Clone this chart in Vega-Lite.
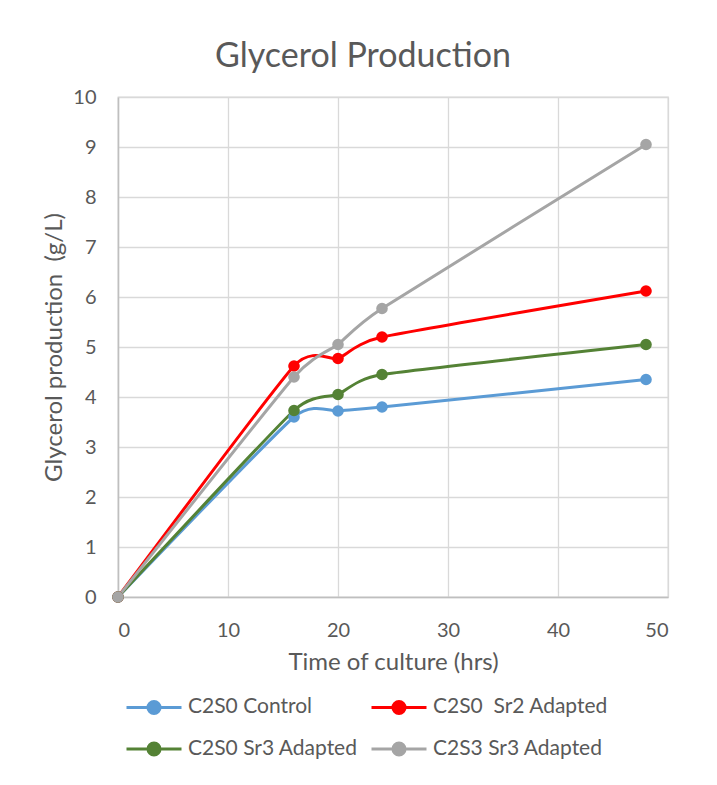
{
  "$schema": "https://vega.github.io/schema/vega-lite/v6.json",
  "width": 550,
  "height": 500,
  "autosize": {"type": "none"},
  "padding": {"left": 118, "top": 97, "right": 49, "bottom": 188},
  "background": "white",
  "title": {
    "text": "Glycerol Production",
    "font": "Lato",
    "fontSize": 34,
    "fontWeight": "normal",
    "color": "#595959",
    "anchor": "middle",
    "dx": -30,
    "offset": 13
  },
  "data": {
    "values": [
      {"time": 0, "glycerol": 0, "series": "C2S0 Control"},
      {"time": 16, "glycerol": 3.6, "series": "C2S0 Control"},
      {"time": 20, "glycerol": 3.72, "series": "C2S0 Control"},
      {"time": 24, "glycerol": 3.8, "series": "C2S0 Control"},
      {"time": 48, "glycerol": 4.35, "series": "C2S0 Control"},
      {"time": 0, "glycerol": 0, "series": "C2S0\u00a0 Sr2 Adapted"},
      {"time": 16, "glycerol": 4.62, "series": "C2S0\u00a0 Sr2 Adapted"},
      {"time": 20, "glycerol": 4.77, "series": "C2S0\u00a0 Sr2 Adapted"},
      {"time": 24, "glycerol": 5.2, "series": "C2S0\u00a0 Sr2 Adapted"},
      {"time": 48, "glycerol": 6.12, "series": "C2S0\u00a0 Sr2 Adapted"},
      {"time": 0, "glycerol": 0, "series": "C2S0 Sr3 Adapted"},
      {"time": 16, "glycerol": 3.73, "series": "C2S0 Sr3 Adapted"},
      {"time": 20, "glycerol": 4.05, "series": "C2S0 Sr3 Adapted"},
      {"time": 24, "glycerol": 4.45, "series": "C2S0 Sr3 Adapted"},
      {"time": 48, "glycerol": 5.05, "series": "C2S0 Sr3 Adapted"},
      {"time": 0, "glycerol": 0, "series": "C2S3 Sr3 Adapted"},
      {"time": 16, "glycerol": 4.4, "series": "C2S3 Sr3 Adapted"},
      {"time": 20, "glycerol": 5.05, "series": "C2S3 Sr3 Adapted"},
      {"time": 24, "glycerol": 5.77, "series": "C2S3 Sr3 Adapted"},
      {"time": 48, "glycerol": 9.05, "series": "C2S3 Sr3 Adapted"}
    ]
  },
  "encoding": {
    "x": {
      "field": "time",
      "type": "quantitative",
      "scale": {"domain": [0, 50], "nice": false},
      "axis": {
        "title": "Time of culture (hrs)",
        "values": [0, 10, 20, 30, 40, 50],
        "labelPadding": 23,
        "titlePadding": 10
      }
    },
    "y": {
      "field": "glycerol",
      "type": "quantitative",
      "scale": {"domain": [0, 10], "nice": false},
      "axis": {
        "title": "Glycerol production\u00a0 (g/L)",
        "values": [0, 1, 2, 3, 4, 5, 6, 7, 8, 9, 10],
        "labelPadding": 22,
        "titlePadding": 6
      }
    },
    "color": {
      "field": "series",
      "type": "nominal",
      "sort": ["C2S0 Control", "C2S0\u00a0 Sr2 Adapted", "C2S0 Sr3 Adapted", "C2S3 Sr3 Adapted"],
      "scale": {
        "domain": ["C2S0 Control", "C2S0\u00a0 Sr2 Adapted", "C2S0 Sr3 Adapted", "C2S3 Sr3 Adapted"],
        "range": ["#5b9bd5", "#ff0000", "#548235", "#a5a5a5"]
      },
      "legend": {
        "title": null,
        "orient": "none",
        "direction": "horizontal",
        "legendX": 7,
        "legendY": 581,
        "columns": 2,
        "symbolType": "M-1,0H1M-0.22,0A0.22,0.22 0 1,0 0.22,0A0.22,0.22 0 1,0 -0.22,0",
        "symbolSize": 3025,
        "symbolStrokeWidth": 3,
        "labelFont": "Lato",
        "labelFontSize": 21,
        "labelColor": "#595959",
        "labelOffset": 5,
        "columnPadding": 7,
        "rowPadding": -5,
        "labelLimit": 400,
        "encode": {
          "symbols": {
            "update": {
              "fill": {"scale": "color", "field": "value"},
              "fillOpacity": {"value": 1},
              "opacity": {"value": 1}
            }
          }
        }
      }
    }
  },
  "layer": [
    {
      "mark": {"type": "line", "interpolate": "cardinal", "tension": 0.5, "strokeWidth": 3}
    },
    {
      "mark": {"type": "point", "shape": "circle", "filled": true, "size": 135, "opacity": 1},
      "encoding": {
        "color": {"field": "series", "type": "nominal", "legend": null}
      }
    }
  ],
  "config": {
    "font": "Lato",
    "view": {"stroke": "#d9d9d9", "strokeWidth": 1.3},
    "axis": {
      "labelFont": "Lato",
      "labelFontSize": 20,
      "labelColor": "#595959",
      "titleFont": "Lato",
      "titleFontSize": 24,
      "titleFontWeight": "normal",
      "titleColor": "#595959",
      "ticks": false,
      "tickSize": 0,
      "gridColor": "#d9d9d9",
      "gridWidth": 1.3,
      "domainColor": "#bfbfbf",
      "domainWidth": 1.5
    }
  }
}
